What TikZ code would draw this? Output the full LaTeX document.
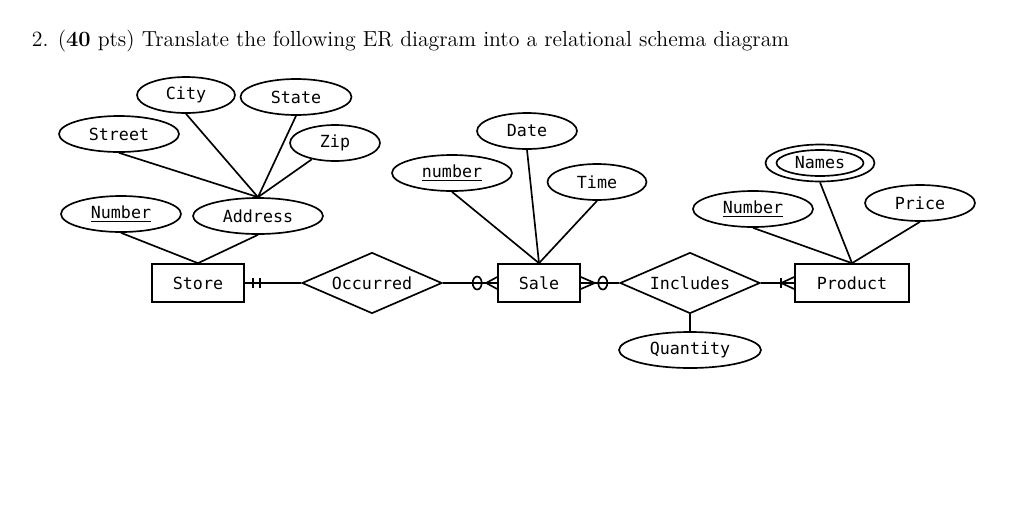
\documentclass[tikz,border=0pt]{standalone}
\usepackage{fontspec}
\usetikzlibrary{shapes.geometric}
\newfontfamily\ermono{DejaVu Sans Mono}

\begin{document}
\begin{tikzpicture}[x=0.02cm,y=-0.02cm,line width=0.95pt,
    attr node/.style={ellipse,draw,inner sep=1pt,minimum width=2.4cm,minimum height=0.72cm,
                      font=\ermono\fontsize{9.5}{11}\selectfont},
    entity node/.style={rectangle,draw,inner sep=1pt,minimum height=0.76cm,
                        font=\ermono\fontsize{9.5}{11}\selectfont},
    rel node/.style={diamond,draw,aspect=2.3,inner sep=1pt,minimum width=2.8cm,minimum height=1.22cm,
                     font=\ermono\fontsize{9.5}{11}\selectfont}]

  \useasboundingbox (0,0) rectangle (1024,531);

  \node[anchor=base west,inner sep=0pt,font=\fontsize{12.4}{14}\selectfont] (title) at (31,46)
    {2. (\textbf{40} pts) Translate the following ER diagram into a relational schema diagram};

  \node[entity node,minimum width=1.84cm] (store) at (198,283) {Store};
  \node[rel node] (occ) at (372,283) {Occurred};
  \node[entity node,minimum width=1.64cm] (sale) at (539,283) {Sale};
  \node[rel node] (incl) at (690,283) {Includes};
  \node[entity node,minimum width=2.28cm] (prod) at (852,283) {Product};
  \node[attr node,minimum width=2.84cm] (qty) at (690,350) {Quantity};

  % store side
  \node[attr node,minimum width=1.96cm] (city) at (186,95) {City};
  \node[attr node,minimum width=2.22cm] (state) at (296,97) {State};
  \node[attr node] (street) at (119,134) {Street};
  \node[attr node,minimum width=1.8cm] (zip) at (335,143) {Zip};
  \node[attr node] (snum) at (121,214) {\underline{Number}};
  \node[attr node,minimum width=2.6cm] (addr) at (258,216) {Address};

  % sale side
  \node[attr node,minimum width=2cm] (date) at (527,131) {Date};
  \node[attr node] (num) at (452,173) {\underline{number}};
  \node[attr node,minimum width=1.98cm] (time) at (597,182) {Time};

  % product side
  \node[attr node,minimum width=2.18cm,minimum height=0.74cm] (namesout) at (820,163) {};
  \node[attr node,minimum width=1.74cm,minimum height=0.52cm] (names) at (820,163) {Names};
  \node[attr node] (pnum) at (753,209) {\underline{Number}};
  \node[attr node,minimum width=2.2cm] (price) at (920,203) {Price};

  \path
    (city.south) edge (addr.north)
    (state.south) edge (addr.north)
    (street.south) edge (addr.north)
    (zip) edge (addr.north)
    (snum.south) edge (store.north)
    (addr.south) edge (store.north)

    (num.south) edge (sale.north)
    (date.south) edge (sale.north)
    (time.south) edge (sale.north)

    (pnum.south) edge (prod.north)
    (namesout.south) edge (prod.north)
    (price.south) edge (prod.north)

    (store) edge (occ)
    (occ) edge (sale)
    (sale) edge (incl)
    (incl) edge (prod)
    (incl) edge (qty);

  % cardinality marks
  \draw (store.east) ++(8,-5) -- ++(0,10) (store.east) ++(15,-5) -- ++(0,10);
  \draw (sale.west) ++(-20,0) ellipse [x radius=0.09cm,y radius=0.13cm];
  \draw (sale.west) ++(0,-6) -- ++(-11,6) -- ++(11,6);
  \draw (sale.east) ++(0,-6) -- ++(14,6) -- ++(-14,6);
  \draw (sale.east) ++(22,0) ellipse [x radius=0.09cm,y radius=0.13cm];
  \draw (prod.west) ++(-13,-5) -- ++(0,10);
  \draw (prod.west) ++(0,-6) -- ++(-13,6) -- ++(13,6);
\end{tikzpicture}
\end{document}
